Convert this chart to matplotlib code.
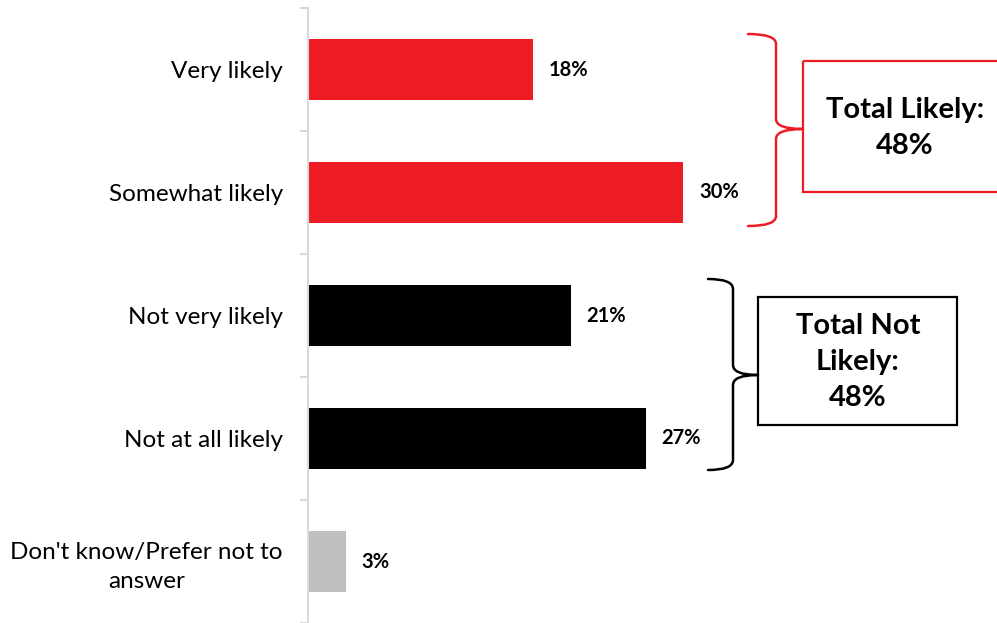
import matplotlib.pyplot as plt
import matplotlib.transforms as mtransforms
from matplotlib.path import Path
from matplotlib.patches import PathPatch, Rectangle

plt.rcParams['font.family'] = ['Lato', 'DejaVu Sans']

# data
categories = ["Very likely", "Somewhat likely", "Not very likely",
              "Not at all likely", "Don't know/Prefer not to\nanswer"]
values = [18, 30, 21, 27, 3]
colors = ["#ED1C24", "#ED1C24", "#000000", "#000000", "#BFBFBF"]
value_labels = ["18%", "30%", "21%", "27%", "3%"]
box_texts = ["Total Likely:\n48%", "Total Not\nLikely:\n48%"]

W, H = 997, 623
fig = plt.figure(figsize=(W / 100, H / 100), dpi=100)
ax = fig.add_axes([308 / W, 0, 1 - 308 / W, 1 - 8 / H])

ypos = list(range(len(categories)))
ax.barh(ypos, values, height=0.5, color=colors)
ax.set_ylim(len(categories) - 0.5, -0.5)
ax.set_xlim(0, (W - 308) / 12.5)

for y, v, lab in zip(ypos, values, value_labels):
    ax.annotate(lab, (v, y), xytext=(11.5, 0), textcoords="offset points",
                ha="left", va="center", fontsize=14.5, fontweight="bold")

ax.set_yticks(ypos)
ax.set_yticklabels(categories, fontsize=17.5, multialignment="center")
for t in ax.get_yticklabels():
    t.set_linespacing(1.45)
ax.tick_params(axis="y", which="major", length=0, pad=18)
ax.set_yticks([i - 0.5 for i in range(len(categories) + 1)], minor=True)
ax.tick_params(axis="y", which="minor", length=6, width=1.5, color="#D9D9D9")
ax.set_xticks([])
for s in ["top", "right", "bottom"]:
    ax.spines[s].set_visible(False)
ax.spines["left"].set_color("#D9D9D9")
ax.spines["left"].set_linewidth(1.5)

# pixel transform (origin top-left)
px = mtransforms.Affine2D().scale(1 / W, -1 / H).translate(0, 1) + fig.transFigure


def brace(xl, xv, xt, yt, yb, ym, color):
    r = 10
    verts = [(xl, yt), (xv, yt), (xv, yt + r),
             (xv, ym - r), (xv, ym), (xt, ym),
             (xt, ym), (xv, ym), (xv, ym + r),
             (xv, yb - r), (xv, yb), (xl, yb)]
    codes = [Path.MOVETO, Path.CURVE3, Path.CURVE3,
             Path.LINETO, Path.CURVE3, Path.CURVE3,
             Path.MOVETO, Path.CURVE3, Path.CURVE3,
             Path.LINETO, Path.CURVE3, Path.CURVE3]
    fig.add_artist(PathPatch(Path(verts, codes), fill=False, edgecolor=color,
                             linewidth=1.8, transform=px, capstyle="round",
                             joinstyle="round"))


# red bracket + box
brace(748, 776, 803, 34, 226, 129, "#ED1C24")
fig.add_artist(Rectangle((803, 61), 200, 131, fill=False, edgecolor="#ED1C24",
                         linewidth=1.6, transform=px))
fig.text(905 / W, 1 - 128 / H, box_texts[0], ha="center", va="center",
         fontsize=21, fontweight="bold", linespacing=1.45)

# black bracket + box
brace(708, 733, 758, 279, 470, 375, "#000000")
fig.add_artist(Rectangle((758, 297), 199, 128, fill=False, edgecolor="#000000",
                         linewidth=1.6, transform=px))
fig.text(858 / W, 1 - 362 / H, box_texts[1], ha="center", va="center",
         fontsize=21, fontweight="bold", linespacing=1.5)

plt.savefig("out.png", dpi=100)
